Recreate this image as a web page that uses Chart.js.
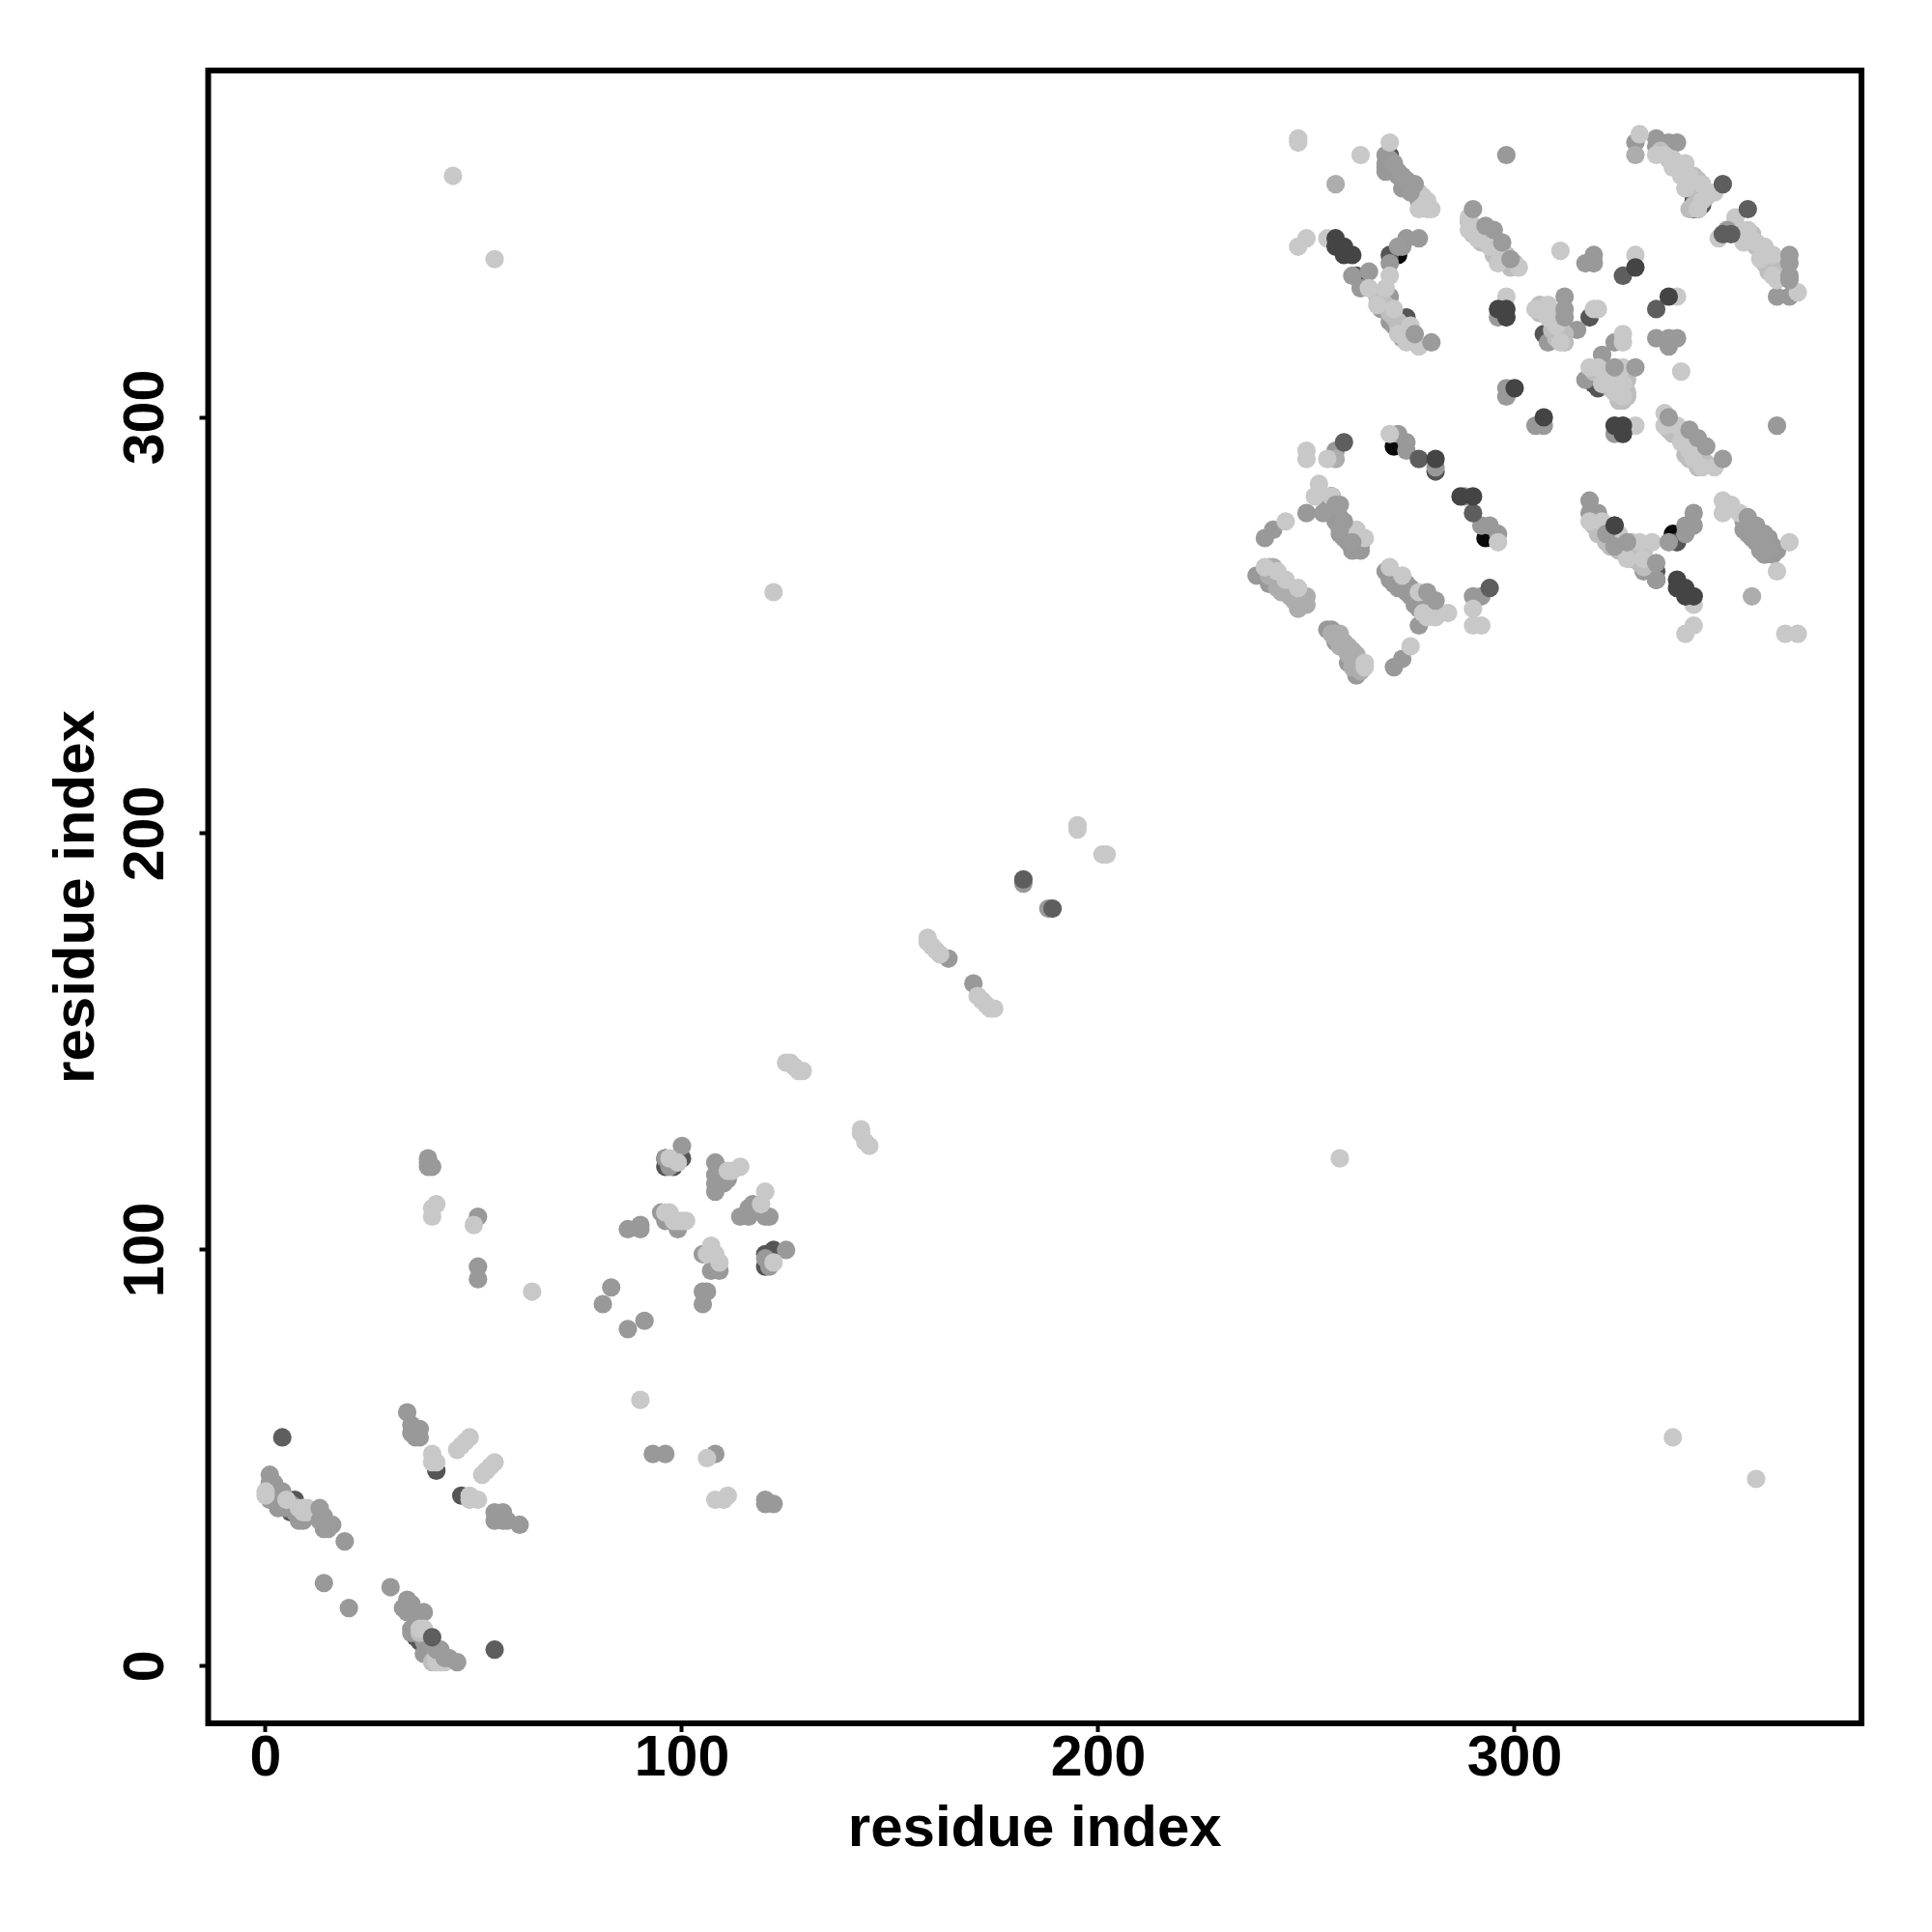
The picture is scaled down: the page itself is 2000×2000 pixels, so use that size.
<!DOCTYPE html>
<html>
<head>
<meta charset="utf-8">
<script src="https://cdn.jsdelivr.net/npm/chart.js@4"></script>
<style>
body { margin: 0; background: #fff; }
</style>
</head>
<body>
<canvas id="contactMap" width="2000" height="2000"></canvas>
<script>
const tickValues = [0, 100, 200, 300];
const axisLabel = 'residue index';

// contacts as [residue, residue], grouped by grey level
const blackUnder = [[271,293],[272,339],[293,271],[338,272]];
const darkUnder = [[2,40],[6,37],[7,40],[7,39],[9,36],[36,7],[37,6],[37,7],[38,5],[39,5],[39,4],[40,2],[41,47],[47,41],[96,120],[98,120],[96,122],
  [110,119],[120,96],[120,99],[122,100],[100,122],[270,363],[343,350],[344,350],[343,353],[343,352],[345,351],[262,334],[270,339],[274,324],
  [307,320],[308,319],[319,308],[320,307],[318,324],[334,263],[334,261],[339,270],[324,274],[256,281],[281,287]];
const midLight = [[257,356],[329,363],[258,248],[260,244],[245,258],[250,257],[249,255],[357,257],[257,290],
  [241,264],[242,262],[243,261],[244,260],[245,260],[246,259],[247,258],[248,257],[249,256],[250,255],[243,259],[244,258],[246,257],[247,256],[248,254],[242,264],[241,262],
  [256,248],[257,248],[257,247],[258,246],[258,245],[259,246],[260,245],[260,243],[261,244],[261,242],[262,243],[261,240],[262,240],[263,241],[263,239]];
const mid = [[1,46],[2,44],[4,42],[3,38],[8,35],[14,33],[19,30],[14,20],[20,14],[30,19],
  [1,44],[1,42],[1,40],[2,42],[3,41],[3,40],[4,39],[5,38],[6,39],[7,37],[8,37],[8,36],[10,36],[9,35],
  [34,61],[35,58],[35,56],[37,57],[37,55],[36,55],[55,37],[55,35],[57,37],[57,35],[58,35],[61,34],
  [34,16],[33,14],[34,13],[35,15],[36,13],[38,13],[35,9],[35,8],[36,9],[36,8],[38,7],[38,6],[39,6],[39,7],[40,5],[39,3],[40,3],[38,3],
  [39,122],[39,121],[39,120],[40,120],[51,108],[51,96],[51,93],[83,91],[81,87],[87,81],[91,83],[87,105],[90,106],[90,105],
  [95,109],[96,107],[99,105],[97,120],[100,125],[96,122],[108,121],[108,118],[108,116],[108,114],[110,116],[111,117],
  [114,108],[116,108],[116,110],[117,111],[120,108],[121,108],[105,99],[107,95],[109,95],[105,87],[105,90],[106,90],
  [120,98],[121,96],[125,100],[93,51],[96,51],[108,51],[120,40],[120,39],[122,39],[182,188],[188,182],[164,170],[170,164],
  [269,363],[269,361],[269,359],[269,360],[273,355],[271,360],[298,363],
  [270,362],[272,359],[274,356],[272,358],[275,356],[276,354],[277,352],
  [329,366],[334,367],[337,366],[339,366],[334,365],[363,329],[366,329],
  [261,334],[265,335],[263,331],[270,337],[274,343],[277,343],[273,341],[270,329],[268,326],[270,323],
  [271,322],[273,319],
  [296,324],[308,318],[315,321],[324,318],[321,315],[317,309],[334,319],[337,317],[337,319],[339,319],
  [319,339],[317,337],[319,337],[298,307],[298,305],[305,298],[307,298],
  [324,296],[363,298],[257,292],[272,296],[274,294],[274,292],[281,288],
  [256,281],[263,269],[250,277],[242,273],[240,271],[288,281],[292,274],[294,274],[296,272],
  [255,280],[256,279],[257,278],[256,277],[258,276],[259,274],[260,273],[261,272],[262,271],[259,271],[260,270],[258,272],[261,268],[263,268],[257,275],
  [238,262],[241,260],[269,263],[270,261],[272,259],[274,260],[275,257],[276,255],[277,250],[290,257],[292,257],
  [270,263],[271,262],[271,260],[273,261],[273,259],[274,258],[275,259],[276,257],[276,258],[277,256],[278,256],[277,254],[278,255],[279,254],[280,255],
  [256,249],[255,249],[257,246],[262,242],[260,241],[262,238],[273,242],[271,240],
  [318,280],[318,277],[320,277],[331,263],[334,261],[343,277],[341,272],[343,274],[341,274],
  [355,275],[356,274],[357,273],[356,272],[357,271],[358,272],[359,271],[360,270],[360,269],[361,271],[362,269],[362,267],[360,267],[363,268]];
// strand fill, a little darker than the pale points drawn over it
const paleFill = [[37,8],[40,1],[41,3],[42,3],[335,364],[337,362],[339,361],[340,360],[341,359],[343,358],[344,357],[343,355],[345,354],[346,353],[344,352],[343,351],[342,350],
  [353,346],[354,345],[355,344],[356,343],[357,344],[358,341],[359,340],[360,340],[361,339],[360,337],[361,336],[362,337],[361,335],[363,336],[364,335],
  [267,329],[268,328],[269,327],[270,325],[271,324],[272,323],[273,322],[273,320],[274,321],[275,319],[276,318],[272,322],
  [306,327],[306,325],[307,325],[308,326],[309,325],[309,323],[310,324],[310,320],[311,320],[312,320],[309,321],[311,322],[310,319],[312,318],
  [319,311],[321,311],[322,310],[323,311],[322,308],[324,309],[325,310],[325,308],[325,306],[327,306],[326,304],[327,309],[326,310],[327,305],[323,307],[325,304],
  [289,347],[290,346],[290,344],[291,345],[292,344],[292,342],[293,343],[294,342],[295,341],[295,339],[296,339],[298,339],[298,337],[299,336],[300,337],
  [337,299],[337,297],[338,296],[339,296],[340,295],[341,294],[341,291],[342,290],[343,291],[344,289],[346,289],[344,288],
  [319,274],[320,274],[320,272],[321,273],[322,270],[323,271],[323,269],[324,270],[326,270],[325,268],[327,268],[328,270],[329,268],[329,266],[330,268],[328,266],[330,265],[331,268],[331,264]];
const pale = [[0,42],[0,41],[5,40],[8,38],[9,37],[10,37],[10,38],[9,38],[37,9],[38,9],[41,1],[42,1],[41,2],[43,1],[40,51],[40,49],[41,49],[46,52],[47,53],[48,54],[49,55],
  [52,46],[53,47],[54,48],[55,49],[49,41],[49,40],[51,40],[41,111],[40,110],[40,108],[50,106],[64,90],[90,64],[96,109],[97,109],[98,107],[101,107],[99,107],[100,107],
  [97,122],[99,121],[111,119],[112,119],[114,120],[119,111],[120,114],[107,101],[106,99],[108,99],[109,97],[122,97],[106,50],[108,40],[110,40],[111,41],
  [45,358],[55,338],[122,258],[258,122],[338,55],[358,45],[195,202],[195,201],[201,195],[202,195],[159,175],[159,174],[160,173],[161,172],[162,171],
  [171,161],[172,160],[173,159],[174,158],[175,158],[143,129],[143,128],[144,126],[145,125],[125,145],[126,145],[127,144],[128,143],[129,143],
  [248,367],[248,366],[263,363],[270,366],[277,354],[279,352],[277,350],[280,350],[278,351],[279,350],[278,353],
  [330,368],[334,363],[336,363],[338,362],[341,361],[338,360],[342,358],[340,358],[345,356],[341,355],[348,354],[345,352],[344,350],
  [349,343],[353,348],[356,345],[358,342],[355,342],[360,341],[359,338],[362,339],[362,334],[363,333],[368,330],
  [248,341],[250,343],[255,343],[270,334],[265,331],[269,331],[267,327],[271,326],[275,322],[272,320],[274,318],[277,317],
  [298,329],[305,326],[308,327],[308,324],[310,322],[311,318],[319,326],[320,326],[326,320],[326,318],[318,312],[320,312],[326,312],[323,309],[326,308],[326,305],[324,306],[321,308],
  [340,311],[311,340],[329,339],[339,329],[289,348],[289,345],[291,343],[294,341],[297,340],[301,336],[296,337],[329,298],[336,301],[336,298],[339,298],[340,294],[343,290],[345,288],[348,288],[342,292],
  [250,292],[250,290],[255,290],[270,296],[253,284],[252,281],[256,281],[262,273],[264,271],[245,275],
  [296,270],[240,264],[243,263],[245,261],[248,259],[270,264],[273,262],[277,258],[280,253],[281,252],[284,253],[290,254],[290,250],[292,250],[264,240],[275,245],
  [278,253],[279,252],[264,241],
  [318,275],[321,275],[325,272],[330,270],[327,266],[331,266],[333,270],[343,255],[343,250],[341,248],[350,280],[352,279],[350,277],[354,277],[366,270],[363,263],[365,248],[368,248]];
// mid grey points that sit on top of the pale strands
const midTop = [[13,38],[13,35],[14,36],[16,34],[15,33],[41,4],[42,4],[43,2],[44,2],[46,1],
  [271,361],[273,358],[274,357],[276,356],[275,354],[290,350],[293,346],[295,345],[297,342],[299,338],
  [351,345],[366,339],[366,337],[366,334],[366,333],[272,341],[276,320],[280,318],
  [312,329],[312,326],[312,324],[324,312],[329,312],[337,300],[342,297],[344,295],[346,293],[350,290],
  [254,277],[257,279],[258,279],[259,275],[258,273],[261,270],
  [279,258],[281,256],[322,272],[327,270],[324,269],[337,270],[334,265],
  [356,276],[355,273],[358,274],[360,272],[358,270],[359,268],[361,268]];
const darkTop = [[4,55],[55,4],[40,7],[182,189],[189,182],[350,356],[356,350],[350,344],[352,344],[326,334],[334,326],[259,294],[277,290],[290,277],[294,259]];
const darkest = [[257,343],[257,341],[259,341],[259,339],[261,339],[296,326],[298,326],[298,324],[300,307],[307,300],[324,298],[326,298],[326,296],[329,336],[337,329],
  [281,290],[287,281],[290,281],[324,274],[339,261],[339,259],[341,259],[341,257],[343,257]];

// outer box of the plot, the library only draws the two axis sides
const frameBox = {
  id: 'frameBox',
  afterDraw(chart) {
    const { ctx, chartArea } = chart;
    ctx.save();
    ctx.strokeStyle = '#000';
    ctx.lineWidth = 6;
    ctx.strokeRect(chartArea.left, chartArea.top, chartArea.right - chartArea.left, chartArea.bottom - chartArea.top);
    ctx.restore();
  }
};

function makeSet(label, points, colour, order) {
  return {
    label: label,
    data: points.map(p => ({ x: p[0], y: p[1] })),
    backgroundColor: colour,
    borderWidth: 0,
    pointRadius: 9.6,
    order: order
  };
}

const tickFont = { family: '"Liberation Sans"', size: 59, weight: 'bold', lineHeight: 1 };

new Chart(document.getElementById('contactMap').getContext('2d'), {
  type: 'scatter',
  data: {
    datasets: [
      makeSet('black', blackUnder, '#0a0a0a', 9),
      makeSet('dark under', darkUnder, '#555555', 8),
      makeSet('mid', mid, '#999999', 7),
      makeSet('mid light', midLight, '#adadad', 6),
      makeSet('pale fill', paleFill, '#bdbdbd', 5),
      makeSet('pale', pale, '#c8c8c8', 4),
      makeSet('mid top', midTop, '#9b9b9b', 3),
      makeSet('dark top', darkTop, '#5e5e5e', 2),
      makeSet('darkest', darkest, '#444444', 1)
    ]
  },
  options: {
    responsive: false,
    animation: false,
    layout: { padding: { top: 73, right: 73, left: 0, bottom: 0 } },
    plugins: { legend: { display: false }, tooltip: { enabled: false } },
    scales: {
      x: {
        type: 'linear',
        min: -13.8,
        max: 383.3,
        afterFit: s => { s.height = 216; },
        afterBuildTicks: s => { s.ticks = tickValues.map(v => ({ value: v })); },
        grid: { drawOnChartArea: false, drawTicks: true, tickLength: 9, tickWidth: 4, tickColor: '#000' },
        border: { display: false },
        ticks: { autoSkip: false, maxRotation: 0, minRotation: 0, padding: -1, color: '#000', font: tickFont },
        title: { display: true, text: axisLabel, color: '#000', padding: { top: 0, bottom: 70 },
          font: { family: '"Liberation Sans"', size: 60, weight: 'bold' } }
      },
      y: {
        type: 'linear',
        min: -13.7,
        max: 383.3,
        afterFit: s => { s.width = 215.5; },
        afterBuildTicks: s => { s.ticks = tickValues.map(v => ({ value: v })); },
        grid: { drawOnChartArea: false, drawTicks: true, tickLength: 9, tickWidth: 4, tickColor: '#000' },
        border: { display: false },
        ticks: { autoSkip: false, minRotation: 90, maxRotation: 90, crossAlign: 'center', padding: 5, color: '#000', font: tickFont },
        title: { display: true, text: axisLabel, color: '#000', padding: { top: 44, bottom: 0 },
          font: { family: '"Liberation Sans"', size: 60, weight: 'bold' } }
      }
    }
  },
  plugins: [frameBox]
});
</script>
</body>
</html>
